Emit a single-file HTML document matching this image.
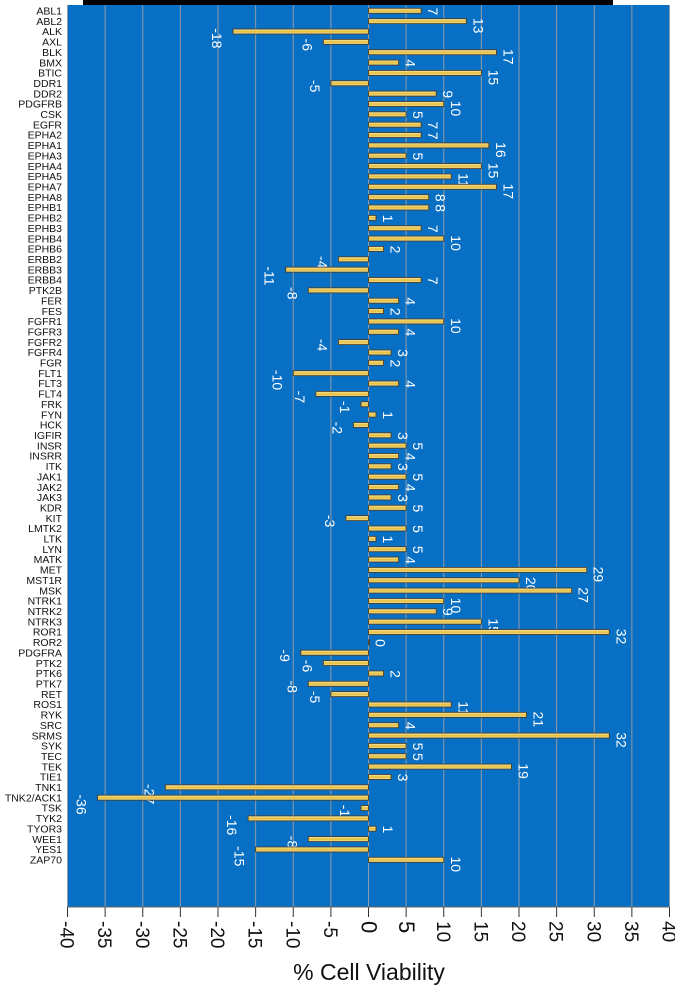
<!DOCTYPE html>
<html><head><meta charset="utf-8"><style>
body{margin:0;background:#fff;width:675px;height:988px;overflow:hidden;font-family:"Liberation Sans",sans-serif}
</style></head><body>
<svg id="chart" width="675" height="988" xmlns="http://www.w3.org/2000/svg">
<defs>
<linearGradient id="barg" x1="0" y1="0" x2="0" y2="1">
<stop offset="0" stop-color="#f6efd0"/><stop offset="0.5" stop-color="#e6bd30"/><stop offset="1" stop-color="#efe2b0"/>
</linearGradient>
</defs>
<rect x="83" y="0" width="530" height="5" fill="#000"/>
<rect x="67" y="5" width="603" height="902" fill="#0870c4"/>
<g id="grid"></g><g id="bars"></g><g id="cats"></g><g id="xaxis"></g>
<text x="369" y="980" font-size="23" text-anchor="middle" fill="#111">% Cell Viability</text>
</svg>
<script>
const categories=["ABL1","ABL2","ALK","AXL","BLK","BMX","BTIC","DDR1","DDR2","PDGFRB","CSK","EGFR","EPHA2","EPHA1","EPHA3","EPHA4","EPHA5","EPHA7","EPHA8","EPHB1","EPHB2","EPHB3","EPHB4","EPHB6","ERBB2","ERBB3","ERBB4","PTK2B","FER","FES","FGFR1","FGFR3","FGFR2","FGFR4","FGR","FLT1","FLT3","FLT4","FRK","FYN","HCK","IGFIR","INSR","INSRR","ITK","JAK1","JAK2","JAK3","KDR","KIT","LMTK2","LTK","LYN","MATK","MET","MST1R","MSK","NTRK1","NTRK2","NTRK3","ROR1","ROR2","PDGFRA","PTK2","PTK6","PTK7","RET","ROS1","RYK","SRC","SRMS","SYK","TEC","TEK","TIE1","TNK1","TNK2/ACK1","TSK","TYK2","TYOR3","WEE1","YES1","ZAP70"];
const values=[7,13,-18,-6,17,4,15,-5,9,10,5,7,7,16,5,15,11,17,8,8,1,7,10,2,-4,-11,7,-8,4,2,10,4,-4,3,2,-10,4,-7,-1,1,-2,3,5,4,3,5,4,3,5,-3,5,1,5,4,29,20,27,10,9,15,32,0,-9,-6,2,-8,-5,11,21,4,32,5,5,19,3,-27,-36,-1,-16,1,-8,-15,10];
const xTicks=[-40,-35,-30,-25,-20,-15,-10,-5,0,5,10,15,20,25,30,35,40];
const NS="http://www.w3.org/2000/svg";
const X0=67.5,X1=669.5,xMin=-40,xMax=40;
const xs=v=>X0+(v-xMin)/(xMax-xMin)*(X1-X0);
const Y0=10.5,DY=(859.5-10.5)/(categories.length-1);
const ys=i=>Y0+i*DY;
function mk(t,a,p){const e=document.createElementNS(NS,t);for(const k in a)e.setAttribute(k,a[k]);p.appendChild(e);return e;}
const grid=document.getElementById('grid'),bars=document.getElementById('bars'),cats=document.getElementById('cats'),xa=document.getElementById('xaxis');
xTicks.forEach(t=>{
 const l=mk('line',{x1:xs(t),x2:xs(t),y1:5,y2:907,stroke:'#8f9aa6','stroke-width':1},grid);
 
 
 const tk=mk('line',{x1:xs(t),x2:xs(t),y1:907,y2:917,stroke:'#333','stroke-width':1},xa);
 
 
 const tx=mk('text',{transform:`translate(${xs(t)-7},921) rotate(90)`,'font-size':(t===0||t===5)?22:19,fill:'#111'},xa);
 
 
 tx.textContent=String(t);
});
mk('line',{x1:X0,x2:X1,y1:907,y2:907,stroke:'#666'},xa);
categories.forEach((c,i)=>{
 const y=ys(i),v=values[i];
 const ct=mk('text',{x:62,y:y+4,'font-size':10.5,'text-anchor':'end',fill:'#111'},cats);
 
 
 ct.textContent=c;
 const a=xs(0),b=xs(v);
 const r=mk('rect',{x:Math.min(a,b),y:y-2.2,width:Math.max(Math.abs(b-a),1),height:5,fill:'url(#barg)',stroke:'#4a3e2a','stroke-width':0.9},bars);
 
 
 const lx=v>=0?b+7:b-21;
 const vt=mk('text',{transform:`translate(${lx},${y-3}) rotate(90)`,'font-size':14,fill:'#fff'},bars);
 
 
 vt.textContent=String(v);
});
</script>
</body></html>
